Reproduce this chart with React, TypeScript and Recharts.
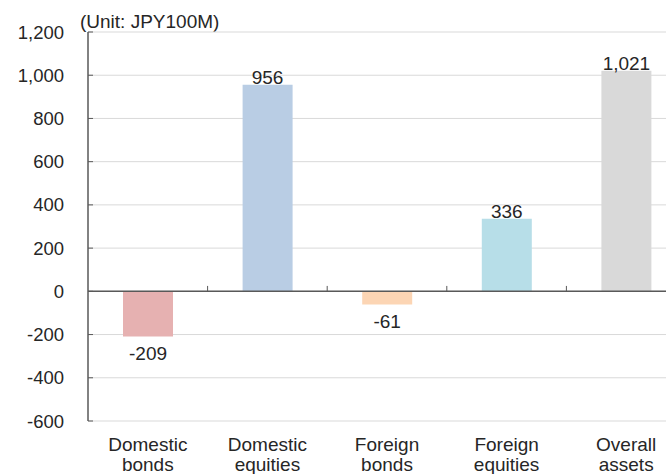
import React from 'react';
import { BarChart, Bar, XAxis, YAxis, CartesianGrid, ReferenceLine, Cell, LabelList } from 'recharts';

const categories = ['Domestic bonds', 'Domestic equities', 'Foreign bonds', 'Foreign equities', 'Overall assets'];
const values = [-209, 956, -61, 336, 1021];
const barColors = ['#e6b1b1', '#b9cde4', '#fcd5b4', '#b7dee8', '#d9d9d9'];
const yTicks = [-600, -400, -200, 0, 200, 400, 600, 800, 1000, 1200];
// category boundaries on the zero line (0..5 numeric scale)
const boundaries = [1, 2, 3, 4];

const data = categories.map((name, i) => ({ name, value: values[i], pos: i + 0.5 }));

const FONT = "'Liberation Sans', Arial, sans-serif";
const TEXT = '#262626';
const AXIS = '#595959';

const fmt = (v: number) => v.toLocaleString('en-US');

const CategoryTick = (props: any) => {
  const { x, y, payload } = props;
  const [first, ...rest] = String(payload.value).split(' ');
  return (
    <text x={x} y={y} textAnchor="middle" fill={TEXT} fontSize={19} fontFamily={FONT}>
      <tspan x={x} dy={30}>{first}</tspan>
      <tspan x={x} dy={20}>{rest.join(' ')}</tspan>
    </text>
  );
};

const renderValueLabel = (props: any) => {
  const { x, y, width, height, value } = props;
  const top = Math.min(y, y + height);
  const bottom = Math.max(y, y + height);
  const ty = value >= 0 ? top - 1 : bottom + 23;
  return (
    <text x={x + width / 2} y={ty} textAnchor="middle" fill={TEXT} fontSize={19} fontFamily={FONT}>
      {fmt(value)}
    </text>
  );
};

export default function App() {
  return (
    <div style={{ position: 'absolute', left: 0, top: 0, width: 666, height: 474, overflow: 'hidden', background: '#fff' }}>
      <div
        style={{
          position: 'absolute',
          left: 80,
          top: 12,
          fontFamily: FONT,
          fontSize: 19,
          lineHeight: '19px',
          color: TEXT,
          whiteSpace: 'nowrap',
        }}
      >
        (Unit: JPY100M)
      </div>
      <BarChart width={700} height={474} data={data} margin={{ top: 32, right: 14, bottom: 0, left: 0 }}>
        <CartesianGrid vertical={false} stroke="#d9d9d9" />
        <XAxis
          dataKey="name"
          height={53}
          axisLine={false}
          tickLine={false}
          tickSize={0}
          tickMargin={0}
          interval={0}
          tick={<CategoryTick />}
        />
        <XAxis xAxisId="num" dataKey="pos" type="number" domain={[0, 5]} allowDataOverflow hide />
        <YAxis
          domain={[-600, 1200]}
          ticks={yTicks}
          interval={0}
          width={88}
          tickFormatter={fmt}
          tickSize={-5}
          tickMargin={29}
          axisLine={{ stroke: AXIS, strokeWidth: 1.5 }}
          tickLine={{ stroke: AXIS }}
          tick={{ fill: TEXT, fontSize: 18.5, fontFamily: FONT }}
        />
        <Bar dataKey="value" barSize={50} isAnimationActive={false}>
          {data.map((d, i) => (
            <Cell key={d.name} fill={barColors[i]} />
          ))}
          <LabelList dataKey="value" content={renderValueLabel} />
        </Bar>
        <ReferenceLine y={0} stroke={AXIS} strokeWidth={1.5} />
        {boundaries.map((b) => (
          <ReferenceLine
            key={b}
            xAxisId="num"
            segment={[{ x: b, y: 0 }, { x: b, y: 25 }]}
            stroke={AXIS}
          />
        ))}
      </BarChart>
    </div>
  );
}
